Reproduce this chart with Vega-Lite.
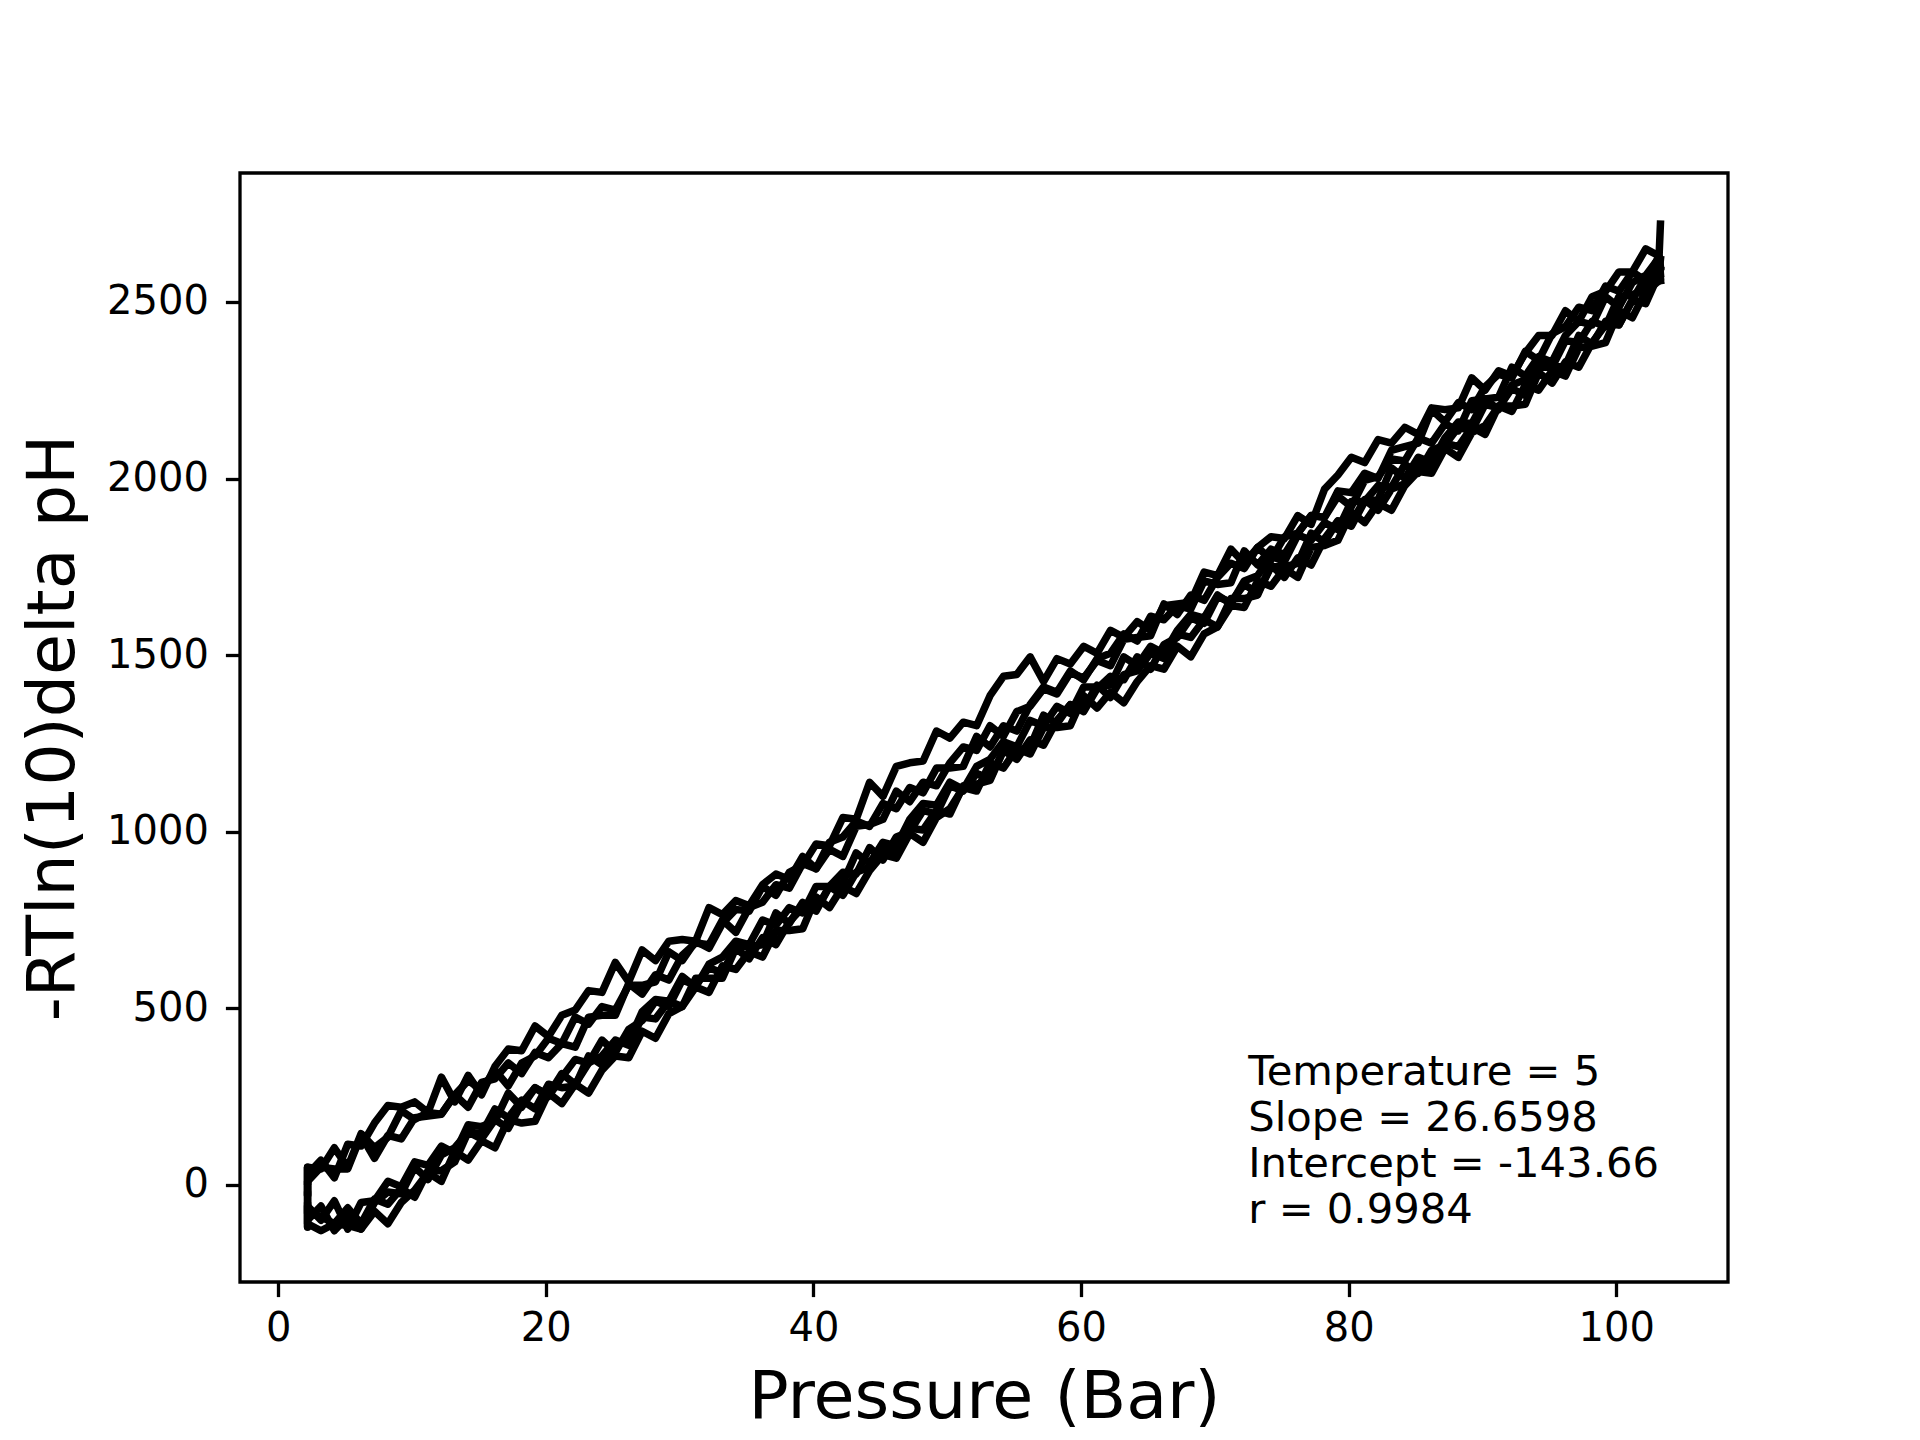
{
  "$schema": "https://vega.github.io/schema/vega-lite/v6.json",
  "width": 1488,
  "height": 1109,
  "autosize": {"type": "none"},
  "padding": {"left": 240, "top": 173, "right": 192, "bottom": 158},
  "background": "#ffffff",
  "config": {
    "view": {"stroke": "#000000", "strokeWidth": 3.3},
    "axis": {
      "domain": false,
      "grid": false,
      "ticks": true,
      "tickColor": "#000000",
      "tickWidth": 3.3,
      "tickSize": 14.6,
      "labelFont": "DejaVu Sans",
      "labelFontSize": 40,
      "labelColor": "#000000",
      "labelFlush": false,
      "labelOverlap": false,
      "titleFont": "DejaVu Sans",
      "titleFontSize": 66.7,
      "titleFontWeight": "normal",
      "titleColor": "#000000"
    }
  },
  "layer": [
    {
      "data": {
        "values": [
          {"i":0,"p":2.2,"A":-20,"B":10,"C":40,"D":-60,"E":-80,"F":-110,"G":0},
          {"i":1,"p":2.2,"A":50,"B":30,"C":-30,"D":-120,"E":-20,"F":-90,"G":-60},
          {"i":2,"p":2.2,"A":30,"B":50,"C":10,"D":-100,"E":-110,"F":-60,"G":-80},
          {"i":3,"p":3.2,"A":70,"B":45,"C":50,"D":-60,"E":-130,"F":-100,"G":-90},
          {"i":4,"p":4.2,"A":20,"B":105,"C":45,"D":-130,"E":-110,"F":-45,"G":-110},
          {"i":5,"p":5.2,"A":115,"B":50,"C":45,"D":-90,"E":-115,"F":-125,"G":-65},
          {"i":6,"p":6.2,"A":110,"B":145,"C":140,"D":-125,"E":-125,"F":-50,"G":-110},
          {"i":7,"p":7.2,"A":175,"B":105,"C":75,"D":-50,"E":-75,"F":-45,"G":-40},
          {"i":8,"p":8.2,"A":225,"B":135,"C":140,"D":-20,"E":-110,"F":10,"G":-55},
          {"i":9,"p":9.2,"A":220,"B":210,"C":130,"D":-25,"E":-50,"F":-5,"G":-10},
          {"i":10,"p":10.2,"A":235,"B":185,"C":190,"D":50,"E":-15,"F":65,"G":-35},
          {"i":11,"p":11.2,"A":205,"B":205,"C":195,"D":15,"E":35,"F":55,"G":40},
          {"i":12,"p":12.2,"A":305,"B":200,"C":200,"D":85,"E":10,"F":110,"G":40},
          {"i":13,"p":13.2,"A":235,"B":255,"C":255,"D":105,"E":95,"F":90,"G":65},
          {"i":14,"p":14.2,"A":310,"B":295,"C":220,"D":150,"E":70,"F":170,"G":150},
          {"i":15,"p":15.2,"A":255,"B":270,"C":290,"D":145,"E":125,"F":165,"G":130},
          {"i":16,"p":16.2,"A":335,"B":325,"C":300,"D":215,"E":105,"F":180,"G":185},
          {"i":17,"p":17.2,"A":385,"B":280,"C":345,"D":190,"E":185,"F":260,"G":160},
          {"i":18,"p":18.2,"A":380,"B":345,"C":315,"D":240,"E":175,"F":220,"G":230},
          {"i":19,"p":19.2,"A":450,"B":365,"C":375,"D":215,"E":180,"F":275,"G":275},
          {"i":20,"p":20.2,"A":420,"B":415,"C":360,"D":285,"E":260,"F":250,"G":255},
          {"i":21,"p":21.2,"A":480,"B":400,"C":400,"D":275,"E":230,"F":305,"G":315},
          {"i":22,"p":22.2,"A":495,"B":475,"C":390,"D":280,"E":285,"F":355,"G":285},
          {"i":23,"p":23.2,"A":550,"B":455,"C":475,"D":365,"E":260,"F":345,"G":345},
          {"i":24,"p":24.2,"A":545,"B":505,"C":480,"D":340,"E":325,"F":410,"G":365},
          {"i":25,"p":25.2,"A":630,"B":495,"C":480,"D":405,"E":365,"F":375,"G":410},
          {"i":26,"p":26.2,"A":575,"B":565,"C":570,"D":405,"E":360,"F":440,"G":395},
          {"i":27,"p":27.2,"A":665,"B":565,"C":540,"D":490,"E":435,"F":465,"G":475},
          {"i":28,"p":28.2,"A":635,"B":575,"C":595,"D":525,"E":415,"F":520,"G":470},
          {"i":29,"p":29.2,"A":690,"B":660,"C":580,"D":520,"E":485,"F":505,"G":520},
          {"i":30,"p":30.2,"A":695,"B":635,"C":650,"D":590,"E":505,"F":580,"G":505},
          {"i":31,"p":31.2,"A":690,"B":690,"C":685,"D":560,"E":560,"F":565,"G":585},
          {"i":32,"p":32.2,"A":785,"B":670,"C":680,"D":625,"E":545,"F":615,"G":585},
          {"i":33,"p":33.2,"A":765,"B":740,"C":750,"D":645,"E":620,"F":600,"G":585},
          {"i":34,"p":34.2,"A":805,"B":780,"C":715,"D":690,"E":610,"F":675,"G":670},
          {"i":35,"p":35.2,"A":790,"B":775,"C":785,"D":680,"E":660,"F":675,"G":640},
          {"i":36,"p":36.2,"A":850,"B":845,"C":800,"D":750,"E":645,"F":680,"G":700},
          {"i":37,"p":37.2,"A":880,"B":820,"C":850,"D":735,"E":720,"F":770,"G":680},
          {"i":38,"p":38.2,"A":865,"B":885,"C":840,"D":785,"E":720,"F":740,"G":745},
          {"i":39,"p":39.2,"A":930,"B":905,"C":910,"D":770,"E":725,"F":800,"G":785},
          {"i":40,"p":40.2,"A":895,"B":965,"C":895,"D":845,"E":815,"F":775,"G":780},
          {"i":41,"p":41.2,"A":970,"B":960,"C":950,"D":845,"E":785,"F":845,"G":845},
          {"i":42,"p":42.2,"A":985,"B":1040,"C":930,"D":855,"E":845,"F":885,"G":820},
          {"i":43,"p":43.2,"A":1030,"B":1035,"C":1015,"D":940,"E":825,"F":880,"G":885},
          {"i":44,"p":44.2,"A":1015,"B":1140,"C":1020,"D":910,"E":890,"F":955,"G":900},
          {"i":45,"p":45.2,"A":1080,"B":1100,"C":1035,"D":970,"E":935,"F":920,"G":950},
          {"i":46,"p":46.2,"A":1065,"B":1185,"C":1115,"D":960,"E":925,"F":985,"G":940},
          {"i":47,"p":47.2,"A":1125,"B":1195,"C":1085,"D":1035,"E":995,"F":1000,"G":1010},
          {"i":48,"p":48.2,"A":1110,"B":1200,"C":1140,"D":1080,"E":970,"F":1060,"G":1005},
          {"i":49,"p":49.2,"A":1180,"B":1285,"C":1130,"D":1075,"E":1040,"F":1050,"G":1060},
          {"i":50,"p":50.2,"A":1180,"B":1265,"C":1195,"D":1140,"E":1065,"F":1130,"G":1050},
          {"i":51,"p":51.2,"A":1185,"B":1310,"C":1240,"D":1120,"E":1125,"F":1115,"G":1130},
          {"i":52,"p":52.2,"A":1270,"B":1300,"C":1230,"D":1185,"E":1115,"F":1165,"G":1135},
          {"i":53,"p":53.2,"A":1240,"B":1385,"C":1300,"D":1205,"E":1195,"F":1150,"G":1145},
          {"i":54,"p":54.2,"A":1300,"B":1440,"C":1270,"D":1255,"E":1180,"F":1230,"G":1230},
          {"i":55,"p":55.2,"A":1285,"B":1445,"C":1340,"D":1240,"E":1235,"F":1230,"G":1205},
          {"i":56,"p":56.2,"A":1360,"B":1495,"C":1355,"D":1315,"E":1220,"F":1240,"G":1260},
          {"i":57,"p":57.2,"A":1410,"B":1425,"C":1405,"D":1300,"E":1295,"F":1330,"G":1245},
          {"i":58,"p":58.2,"A":1395,"B":1490,"C":1390,"D":1355,"E":1295,"F":1305,"G":1315},
          {"i":59,"p":59.2,"A":1455,"B":1475,"C":1450,"D":1335,"E":1300,"F":1360,"G":1360},
          {"i":60,"p":60.2,"A":1430,"B":1525,"C":1435,"D":1410,"E":1385,"F":1340,"G":1350},
          {"i":61,"p":61.2,"A":1490,"B":1505,"C":1485,"D":1410,"E":1350,"F":1405,"G":1415},
          {"i":62,"p":62.2,"A":1505,"B":1570,"C":1470,"D":1415,"E":1395,"F":1440,"G":1380},
          {"i":63,"p":63.2,"A":1560,"B":1550,"C":1545,"D":1495,"E":1365,"F":1430,"G":1445},
          {"i":64,"p":64.2,"A":1540,"B":1595,"C":1550,"D":1470,"E":1425,"F":1495,"G":1455},
          {"i":65,"p":65.2,"A":1610,"B":1570,"C":1555,"D":1525,"E":1470,"F":1460,"G":1505},
          {"i":66,"p":66.2,"A":1600,"B":1640,"C":1645,"D":1505,"E":1460,"F":1530,"G":1490},
          {"i":67,"p":67.2,"A":1640,"B":1645,"C":1615,"D":1570,"E":1525,"F":1550,"G":1560},
          {"i":68,"p":68.2,"A":1630,"B":1650,"C":1670,"D":1615,"E":1495,"F":1605,"G":1550},
          {"i":69,"p":69.2,"A":1710,"B":1735,"C":1655,"D":1605,"E":1560,"F":1590,"G":1600},
          {"i":70,"p":70.2,"A":1700,"B":1725,"C":1720,"D":1670,"E":1580,"F":1665,"G":1580},
          {"i":71,"p":71.2,"A":1705,"B":1800,"C":1760,"D":1645,"E":1640,"F":1650,"G":1660},
          {"i":72,"p":72.2,"A":1795,"B":1760,"C":1745,"D":1710,"E":1635,"F":1700,"G":1660},
          {"i":73,"p":73.2,"A":1755,"B":1805,"C":1805,"D":1725,"E":1710,"F":1675,"G":1670},
          {"i":74,"p":74.2,"A":1800,"B":1835,"C":1770,"D":1780,"E":1695,"F":1750,"G":1755},
          {"i":75,"p":75.2,"A":1785,"B":1830,"C":1835,"D":1765,"E":1745,"F":1750,"G":1720},
          {"i":76,"p":76.2,"A":1845,"B":1895,"C":1845,"D":1840,"E":1720,"F":1760,"G":1775},
          {"i":77,"p":77.2,"A":1895,"B":1870,"C":1895,"D":1825,"E":1805,"F":1845,"G":1755},
          {"i":78,"p":78.2,"A":1890,"B":1970,"C":1890,"D":1875,"E":1810,"F":1820,"G":1830},
          {"i":79,"p":79.2,"A":1950,"B":2010,"C":1965,"D":1855,"E":1825,"F":1880,"G":1880},
          {"i":80,"p":80.2,"A":1920,"B":2060,"C":1960,"D":1935,"E":1905,"F":1865,"G":1875},
          {"i":81,"p":81.2,"A":1995,"B":2045,"C":2015,"D":1935,"E":1875,"F":1935,"G":1940},
          {"i":82,"p":82.2,"A":2005,"B":2110,"C":2000,"D":1940,"E":1930,"F":1980,"G":1910},
          {"i":83,"p":83.2,"A":2055,"B":2100,"C":2080,"D":2030,"E":1910,"F":1975,"G":1970},
          {"i":84,"p":84.2,"A":2050,"B":2145,"C":2090,"D":2000,"E":1980,"F":2040,"G":1985},
          {"i":85,"p":85.2,"A":2115,"B":2125,"C":2100,"D":2060,"E":2020,"F":2015,"G":2040},
          {"i":86,"p":86.2,"A":2100,"B":2200,"C":2195,"D":2045,"E":2015,"F":2080,"G":2025},
          {"i":87,"p":87.2,"A":2155,"B":2195,"C":2160,"D":2115,"E":2085,"F":2095,"G":2100},
          {"i":88,"p":88.2,"A":2135,"B":2200,"C":2215,"D":2160,"E":2060,"F":2145,"G":2090},
          {"i":89,"p":89.2,"A":2220,"B":2285,"C":2195,"D":2155,"E":2130,"F":2135,"G":2145},
          {"i":90,"p":90.2,"A":2225,"B":2250,"C":2260,"D":2225,"E":2150,"F":2210,"G":2125},
          {"i":91,"p":91.2,"A":2230,"B":2305,"C":2295,"D":2195,"E":2205,"F":2200,"G":2205},
          {"i":92,"p":92.2,"A":2315,"B":2290,"C":2285,"D":2265,"E":2190,"F":2255,"G":2205},
          {"i":93,"p":93.2,"A":2290,"B":2355,"C":2360,"D":2280,"E":2265,"F":2235,"G":2210},
          {"i":94,"p":94.2,"A":2345,"B":2405,"C":2335,"D":2330,"E":2250,"F":2315,"G":2300},
          {"i":95,"p":95.2,"A":2330,"B":2405,"C":2410,"D":2315,"E":2305,"F":2315,"G":2270},
          {"i":96,"p":96.2,"A":2405,"B":2475,"C":2430,"D":2390,"E":2290,"F":2320,"G":2330},
          {"i":97,"p":97.2,"A":2445,"B":2445,"C":2485,"D":2385,"E":2370,"F":2405,"G":2315},
          {"i":98,"p":98.2,"A":2435,"B":2515,"C":2475,"D":2445,"E":2375,"F":2380,"G":2385},
          {"i":99,"p":99.2,"A":2515,"B":2530,"C":2545,"D":2430,"E":2385,"F":2445,"G":2435},
          {"i":100,"p":100.2,"A":2485,"B":2585,"C":2530,"D":2515,"E":2475,"F":2435,"G":2435},
          {"i":101,"p":101.2,"A":2555,"B":2585,"C":2585,"D":2520,"E":2455,"F":2505,"G":2505},
          {"i":102,"p":102.2,"A":2575,"B":2650,"C":2560,"D":2535,"E":2530,"F":2570,"G":2495},
          {"i":103,"p":103.2,"A":2625,"B":2630,"C":2630,"D":2615,"E":2560,"F":2585,"G":2580},
          {"i":104,"p":103.3,"A":2580,"B":2720,"C":2600,"D":2570,"E":2590,"F":2620,"G":2560}
        ]
      },
      "transform": [
        {"fold": ["A", "B", "C", "D", "E", "F", "G"], "as": ["run", "value"]}
      ],
      "mark": {"type": "line", "color": "#000000", "strokeWidth": 7.5, "strokeJoin": "round", "strokeCap": "square", "clip": true},
      "encoding": {
        "x": {
          "field": "p",
          "type": "quantitative",
          "scale": {"domain": [-2.85, 108.35], "nice": false, "zero": false},
          "axis": {
            "title": "Pressure (Bar)",
            "values": [0, 20, 40, 60, 80, 100],
            "format": "d",
            "labelPadding": 12,
            "titleBaseline": "alphabetic",
            "titleY": 135
          }
        },
        "y": {
          "field": "value",
          "type": "quantitative",
          "scale": {"domain": [-275, 2865], "nice": false, "zero": false},
          "axis": {
            "title": "-RTln(10)delta pH",
            "values": [0, 500, 1000, 1500, 2000, 2500],
            "format": "d",
            "labelPadding": 17,
            "titleBaseline": "alphabetic",
            "titleAngle": -90,
            "titleX": -167,
            "titleY": 554.5,
            "titleAlign": "center"
          }
        },
        "detail": {"field": "run", "type": "nominal"},
        "order": {"field": "i", "type": "quantitative"}
      }
    },
    {
      "data": {
        "values": [
          {"t": "Temperature = 5\nSlope = 26.6598\nIntercept = -143.66\nr = 0.9984"}
        ]
      },
      "mark": {
        "type": "text",
        "font": "DejaVu Sans",
        "fontSize": 41.7,
        "color": "#000000",
        "align": "left",
        "baseline": "alphabetic",
        "lineBreak": "\n",
        "lineHeight": 46
      },
      "encoding": {
        "x": {"datum": 72.5, "type": "quantitative"},
        "y": {"datum": 283, "type": "quantitative"},
        "text": {"field": "t", "type": "nominal"}
      }
    }
  ]
}
